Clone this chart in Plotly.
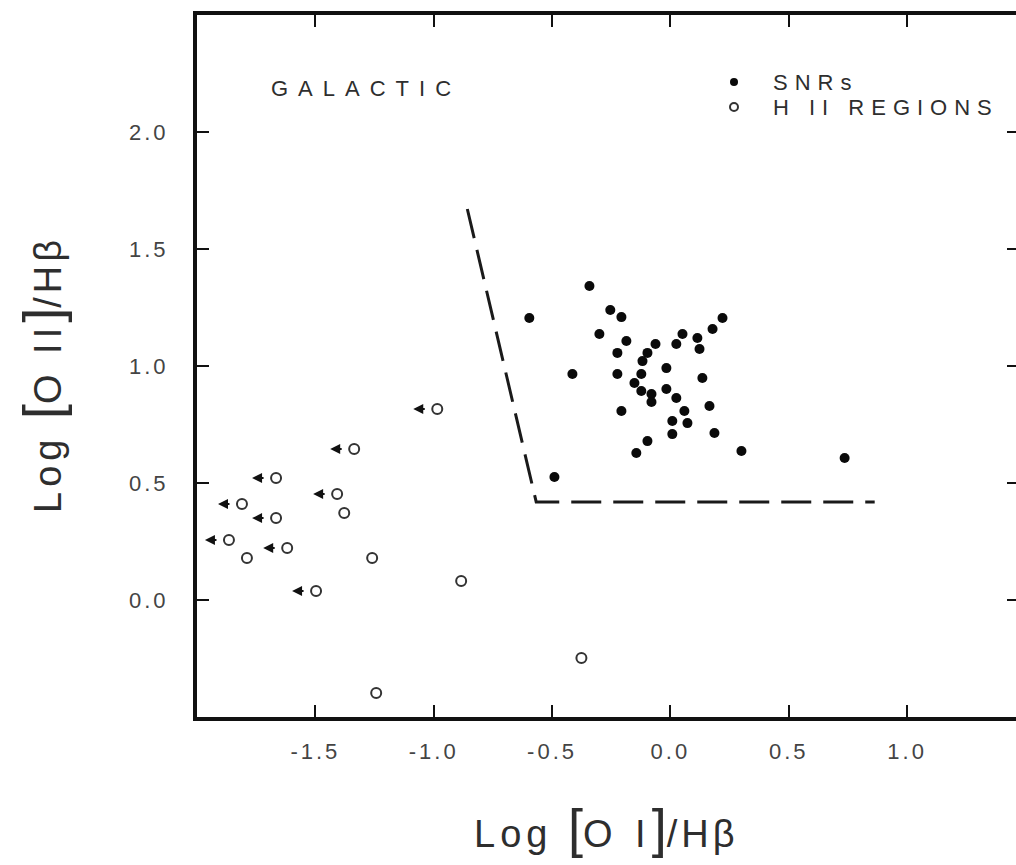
import plotly.graph_objects as go

# ---- data ----
snr_x = [-0.342, -0.596, -0.414, -0.490, -0.254, -0.207, -0.300, -0.186, -0.224, -0.224,
         -0.063, -0.097, -0.118, -0.123, -0.152, -0.123, -0.080, -0.080, -0.017, 0.051,
         0.025, 0.114, 0.123, 0.178, 0.220, -0.017, 0.025, 0.059, 0.072, 0.135,
         0.165, 0.008, 0.008, -0.207, -0.097, -0.144, 0.186, 0.300, 0.736]
snr_y = [1.342, 1.205, 0.966, 0.526, 1.239, 1.209, 1.137, 1.107, 1.056, 0.966,
         1.094, 1.056, 1.021, 0.966, 0.927, 0.893, 0.880, 0.846, 0.991, 1.137,
         1.094, 1.120, 1.073, 1.158, 1.205, 0.902, 0.863, 0.808, 0.756, 0.949,
         0.829, 0.765, 0.709, 0.808, 0.679, 0.628, 0.714, 0.637, 0.607]

hii_x = [-0.985, -1.336, -1.666, -1.408, -1.378, -1.810, -1.666, -1.865, -1.789, -1.619,
         -1.260, -1.497, -0.884, -1.243, -0.376]
hii_y = [0.816, 0.645, 0.521, 0.453, 0.372, 0.410, 0.350, 0.256, 0.179, 0.222,
         0.179, 0.038, 0.081, -0.397, -0.248]
hii_upper_limit = [True, True, True, True, False, True, True, True, False, True,
                   False, True, False, False, False]

boundary_x = [-0.858, -0.567, 0.863]
boundary_y = [1.671, 0.419, 0.419]

x_tickvals = [-1.5, -1.0, -0.5, 0.0, 0.5, 1.0]
x_ticktext = ["-1.5", "-1.0", "-0.5", "0.0", "0.5", "1.0"]
y_tickvals = [0.0, 0.5, 1.0, 1.5, 2.0]
y_ticktext = ["0.0", "0.5", "1.0", "1.5", "2.0"]

legend_labels = ["SNRs", "H II REGIONS"]

FONT = "Liberation Sans, Arial, sans-serif"
TXT = "#2e2e2e"

# plot-area geometry in pixels (used only for placing text / legend)
L, R, T, B = 197, 1016, 15, 717
PW, PH = R - L, B - T


def px_x(p):
    return (p - L) / PW


def px_y(p):
    return (B - p) / PH


def spaced(s, px):
    return f"<span style='letter-spacing:{px}px'>{s}</span>"


fig = go.Figure()

fig.add_trace(go.Scatter(
    x=boundary_x, y=boundary_y, mode="lines",
    line=dict(color="#1a1a1a", width=3, dash="30px,12px"),
    showlegend=False, hoverinfo="skip"))

fig.add_trace(go.Scatter(
    x=snr_x, y=snr_y, mode="markers", name=legend_labels[0], showlegend=False,
    marker=dict(symbol="circle", size=10, color="#0a0a0a")))

fig.add_trace(go.Scatter(
    x=hii_x, y=hii_y, mode="markers", name=legend_labels[1], showlegend=False,
    marker=dict(symbol="circle-open", size=10, color="#333333", line=dict(width=2))))

annotations = []
for xv, yv, lim in zip(hii_x, hii_y, hii_upper_limit):
    if lim:
        annotations.append(dict(
            x=xv, y=yv, xref="x", yref="y", text="", showarrow=True,
            xshift=-24, ax=13, ay=0, axref="pixel", ayref="pixel",
            arrowhead=2, arrowsize=1.0, arrowwidth=2, arrowcolor="#111111"))

annotations.append(dict(
    x=px_x(366), y=px_y(88), xref="paper", yref="paper",
    text=spaced("GALACTIC", 10), showarrow=False, xanchor="center", yanchor="middle",
    font=dict(family=FONT, size=22, color=TXT)))

# manual legend
legend_rows = [(83, "circle", "#0a0a0a"), (108, "circle-open", "#333333")]
shapes = []
for (ypx, sym, col), lab in zip(legend_rows, legend_labels):
    annotations.append(dict(
        x=px_x(771), y=px_y(ypx), xref="paper", yref="paper",
        text=spaced(lab, 7), showarrow=False, xanchor="left", yanchor="middle",
        font=dict(family=FONT, size=22, color=TXT)))
    filled = sym == "circle"
    shapes.append(dict(
        type="circle", xref="paper", yref="paper", xsizemode="pixel", ysizemode="pixel",
        xanchor=px_x(734), yanchor=px_y(ypx - 1), x0=-4, x1=4, y0=-4, y1=4,
        fillcolor=col if filled else "rgba(0,0,0,0)",
        line=dict(color=col, width=0 if filled else 2)))

bracket = "<span style='font-size:54px'>{}</span>"
annotations.append(dict(
    x=px_x(606), y=px_y(828), xref="paper", yref="paper",
    text=spaced("Log ", 5) + bracket.format("[") + spaced("O I", 6)
         + bracket.format("]") + spaced("/Hβ", 4),
    showarrow=False, xanchor="center", yanchor="middle",
    font=dict(family=FONT, size=38, color=TXT)))

annotations.append(dict(
    x=px_x(42), y=px_y(375), xref="paper", yref="paper",
    text=spaced("Log ", 5) + bracket.format("[") + spaced("O II", 5)
         + bracket.format("]") + spaced("/Hβ", 4),
    textangle=-90, showarrow=False, xanchor="center", yanchor="middle",
    font=dict(family=FONT, size=38, color=TXT)))

for yv in y_tickvals:
    shapes.append(dict(type="line", xref="paper", yref="y",
                       x0=1 - 9 / PW, x1=1, y0=yv, y1=yv,
                       line=dict(color="#111111", width=2)))

fig.update_layout(
    width=1016, height=865,
    margin=dict(l=L, r=1016 - R, t=T, b=865 - B),
    paper_bgcolor="white", plot_bgcolor="white",
    font=dict(family=FONT, color=TXT),
    annotations=annotations, shapes=shapes,
    showlegend=False,
)

fig.update_xaxes(
    range=[-2.0, 1.46], showgrid=False, zeroline=False,
    showline=True, linecolor="#111111", linewidth=4, mirror="ticks",
    ticks="inside", ticklen=12, tickwidth=2, tickcolor="#111111",
    tickvals=x_tickvals, ticktext=[spaced(t, 3) for t in x_ticktext],
    tickfont=dict(family=FONT, size=22, color="#444444"),
    ticklabelstandoff=12)

fig.update_yaxes(
    range=[-0.5, 2.5], showgrid=False, zeroline=False,
    showline=True, linecolor="#111111", linewidth=4, mirror=False,
    ticks="inside", ticklen=12, tickwidth=2, tickcolor="#111111",
    tickvals=y_tickvals, ticktext=[spaced(t, 3) for t in y_ticktext],
    tickfont=dict(family=FONT, size=22, color="#444444"),
    ticklabelstandoff=20)

fig.write_html("out.html")
